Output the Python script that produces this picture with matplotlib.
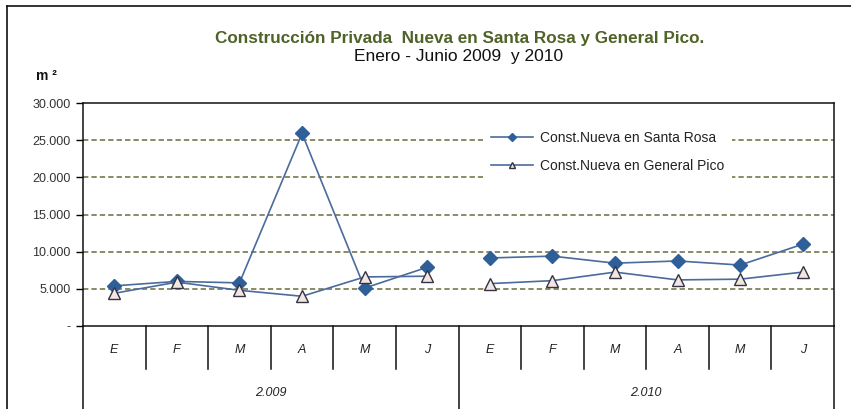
import matplotlib
matplotlib.use("Agg")
import matplotlib.pyplot as plt
import numpy as np
from matplotlib.lines import Line2D
from matplotlib.ticker import FixedLocator, FuncFormatter

plt.rcParams['font.family'] = ['Liberation Sans Narrow', 'Liberation Sans', 'DejaVu Sans']

months = ["E", "F", "M", "A", "M", "J"]
years = ["2.009", "2.010"]
santa_rosa_2009 = [5400, 6000, 5800, 25900, 5100, 7900]
santa_rosa_2010 = [9150, 9400, 8450, 8750, 8200, 11000]
general_pico_2009 = [4400, 5900, 4800, 4000, 6600, 6700]
general_pico_2010 = [5700, 6100, 7250, 6200, 6300, 7250]
series_names = ["Const.Nueva en Santa Rosa", "Const.Nueva en General Pico"]
title_line1 = "Construcción Privada  Nueva en Santa Rosa y General Pico."
title_line2 = "Enero - Junio 2009  y 2010"
y_ticks = [0, 5000, 10000, 15000, 20000, 25000, 30000]

W, H = 851, 409
fig = plt.figure(figsize=(W / 100, H / 100), dpi=100)

L, R, T, B = 83, 834, 103, 326
ax = fig.add_axes([L / W, 1 - B / H, (R - L) / W, (B - T) / H])

line_col = "#4a6b9c"
dia_col = "#2f5f98"
grid_col = "#6b6b3c"

x09 = np.arange(6)
x10 = np.arange(6, 12)

for xs, ys in ((x09, santa_rosa_2009), (x10, santa_rosa_2010)):
    ax.plot(xs, ys, color=line_col, lw=1.2, marker="D", ms=7,
            mfc=dia_col, mec=dia_col, zorder=4)
for xs, ys in ((x09, general_pico_2009), (x10, general_pico_2010)):
    ax.plot(xs, ys, color=line_col, lw=1.2, marker="^", ms=8,
            mfc="#f3e6e1", mec="#333344", mew=1.0, zorder=5)

ax.set_xlim(-0.5, 11.5)
ax.set_ylim(0, 30000)
ax.yaxis.set_major_locator(FixedLocator(y_ticks))

def fmt(v, pos):
    if v == 0:
        return "-"
    return f"{int(v):,}".replace(",", ".")
ax.yaxis.set_major_formatter(FuncFormatter(fmt))
ax.tick_params(axis="y", direction="out", length=5, width=1, labelsize=9,
               labelcolor="#333333", pad=4)
ax.set_xticks([])

for v in y_ticks[1:-1]:
    ax.axhline(v, color=grid_col, lw=1.1, ls=(0, (3.5, 2)), zorder=1)

for s in ax.spines.values():
    s.set_color("#111111")
    s.set_linewidth(1.1)

# category table below axis
bt = ax.get_xaxis_transform()
month_bottom = -(369 - B) / (B - T)
deep = -0.5
for i in range(13):
    xb = i - 0.5
    if i in (0, 6, 12):
        ax.plot([xb, xb], [0, deep], transform=bt, color="#111111", lw=1.1, clip_on=False)
    else:
        ax.plot([xb, xb], [0, month_bottom], transform=bt, color="#111111", lw=1.1, clip_on=False)
for k in range(2):
    for j, m in enumerate(months):
        ax.text(k * 6 + j, -(350 - B) / (B - T), m, transform=bt, ha="center", va="center",
                fontsize=9, style="italic", color="#222222")
    ax.text(k * 6 + 2.5, -(393 - B) / (B - T), years[k], transform=bt, ha="center",
            va="center", fontsize=9, style="italic", color="#222222")

# legend
handles = [
    Line2D([], [], color=line_col, lw=1.2, marker="D", ms=4.5, mfc=dia_col, mec=dia_col),
    Line2D([], [], color=line_col, lw=1.2, marker="^", ms=5, mfc="#f3e6e1", mec="#333344"),
]
leg = ax.legend(handles, series_names, loc="upper left",
                bbox_to_anchor=((476 - L) / (R - L), 1 - (116 - T) / (B - T)),
                frameon=True, fancybox=False, edgecolor="none", facecolor="white",
                framealpha=1, fontsize=10, handlelength=3.0, handletextpad=0.5,
                labelspacing=1.0, borderpad=0.6)
leg.set_zorder(6)
for t in leg.get_texts():
    t.set_color("#222222")

# titles
fig.text(460 / W, 1 - 38 / H, title_line1, ha="center", va="center", fontsize=12.3,
         color="#4f6228", fontweight="bold")
fig.text(459 / W, 1 - 56 / H, title_line2, ha="center", va="center", fontsize=12.5,
         color="#111111")
fig.text(46 / W, 1 - 76 / H, "m ²", ha="center", va="center", fontsize=10,
         color="#111111", fontweight="bold")

# outer frame (top and left edges)
fig.add_artist(Line2D([7 / W, 1.0], [1 - 6 / H, 1 - 6 / H], transform=fig.transFigure,
                      color="#111111", lw=1.2))
fig.add_artist(Line2D([7 / W, 7 / W], [0, 1 - 6 / H], transform=fig.transFigure,
                      color="#111111", lw=1.2))

fig.savefig("out.png", dpi=100)
